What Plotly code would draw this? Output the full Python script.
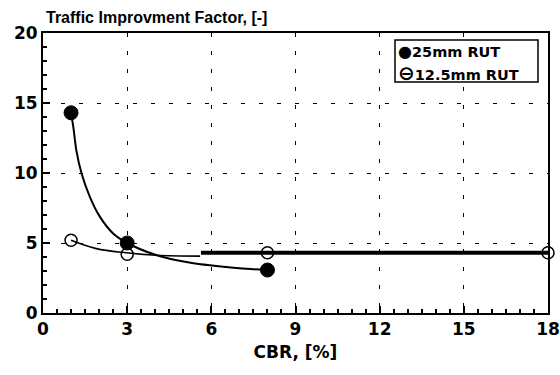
import plotly.graph_objects as go

# Measured data points
cbr_25 = [1, 3, 8]
tif_25 = [14.3, 5.0, 3.07]
cbr_125 = [1, 3, 8, 18]
tif_125 = [5.2, 4.2, 4.3, 4.3]

# Hand-drawn fit curves
curve25_x = [1.0, 1.08, 1.19, 1.37, 1.67, 2.02, 2.49, 3.0, 4.03, 5.21, 6.99, 8.0]
curve25_y = [14.3, 13.3, 11.6, 10.0, 8.3, 6.9, 5.7, 5.0, 4.14, 3.6, 3.19, 3.07]
curve125_x = [1.0, 1.9, 2.97, 4.03, 5.6]
curve125_y = [5.2, 4.6, 4.3, 4.12, 4.06]
level_x = [5.63, 18]
level_y = [4.31, 4.31]

x_ticks = [0, 3, 6, 9, 12, 15, 18]
y_ticks = [0, 5, 10, 15, 20]
legend_labels = ["25mm RUT", "12.5mm RUT"]

fig = go.Figure()
fig.add_trace(go.Scatter(x=cbr_125, y=tif_125, mode="markers", cliponaxis=False, name=legend_labels[1],
                         marker=dict(symbol="circle", size=12, color="white", line=dict(color="black", width=1.5)),
                         showlegend=False))
fig.add_trace(go.Scatter(x=curve25_x, y=curve25_y, mode="lines", line=dict(color="black", width=2, shape="spline", smoothing=0.8),
                         showlegend=False, hoverinfo="skip"))
fig.add_trace(go.Scatter(x=curve125_x, y=curve125_y, mode="lines", line=dict(color="black", width=1.6, shape="spline"),
                         showlegend=False, hoverinfo="skip"))
fig.add_trace(go.Scatter(x=level_x, y=level_y, mode="lines", line=dict(color="black", width=4),
                         showlegend=False, hoverinfo="skip"))
fig.add_trace(go.Scatter(x=cbr_25, y=tif_25, mode="markers", cliponaxis=False, name=legend_labels[0],
                         marker=dict(symbol="circle", size=14, color="black", line=dict(color="black", width=1)),
                         showlegend=False))

tickfont = dict(family="DejaVu Sans", size=17, color="black", weight="bold")
common = dict(showline=True, linecolor="black", linewidth=2, mirror=True,
              ticks="inside", ticklen=7, tickwidth=1.5, tickcolor="black",
              showgrid=True, gridcolor="black", gridwidth=1.3, griddash="4px,14px",
              zeroline=False, tickfont=tickfont, automargin=False, ticklabeloverflow="allow")
fig.update_xaxes(range=[0, 18], tickvals=x_ticks, ticktext=[str(v) for v in x_ticks],
                 minor=dict(dtick=0.5, ticks="inside", ticklen=4, tickcolor="black", showgrid=False),
                 title=dict(text="CBR, [%]", standoff=8,
                            font=dict(family="DejaVu Sans", size=17, color="black", weight="bold")),
                 **common)
fig.update_yaxes(range=[0, 20], tickvals=y_ticks, ticktext=[str(v) for v in y_ticks],
                 minor=dict(dtick=1, ticks="inside", ticklen=4, tickcolor="black", showgrid=False),
                 **common)

fig.add_annotation(text="Traffic Improvment Factor, [-]", xref="paper", yref="paper",
                   x=0.0, y=1.0, xanchor="left", yanchor="bottom", yshift=5, xshift=1, showarrow=False,
                   font=dict(family="Liberation Sans", size=16, color="black", weight="bold"))

# legend box (glyph legend as in the original)
fig.add_shape(type="rect", xref="paper", yref="paper",
              x0=(395 - 43) / 505, x1=(538 - 43) / 505, y0=(313 - 82) / 280, y1=(313 - 40) / 280,
              line=dict(color="black", width=1.5), fillcolor="white", layer="above")
legend_glyphs = ['<span style="font-size:16px">●</span>', '<span style="font-size:20px">⊖</span>']
legend_y = [(313 - 51.5) / 280, (313 - 72.5) / 280]
for glyph, label, ly in zip(legend_glyphs, legend_labels, legend_y):
    fig.add_annotation(text=glyph + label,
                       xref="paper", yref="paper", x=(396 - 43) / 505, y=ly,
                       xanchor="left", yanchor="middle", showarrow=False, align="left",
                       font=dict(family="DejaVu Sans", size=14.5, color="black", weight="bold"))

fig.update_layout(
    width=560, height=375,
    margin=dict(l=43, r=12, t=33, b=62),
    paper_bgcolor="white", plot_bgcolor="white",
    showlegend=False,
)

fig.write_html("out.html", config={"displayModeBar": False},
               post_script="document.body.style.margin='0';")
